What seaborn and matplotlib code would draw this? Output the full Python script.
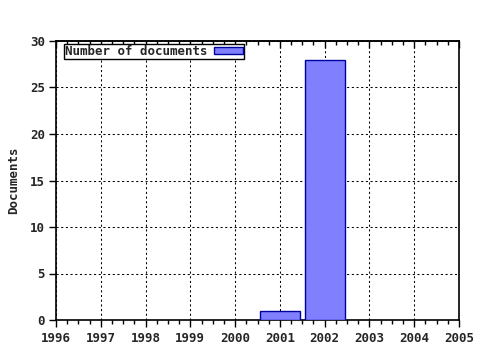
import matplotlib
matplotlib.use("Agg")
import matplotlib.pyplot as plt
import seaborn as sns
import pandas as pd
from matplotlib.ticker import MultipleLocator

years = [2001, 2002]
documents = [1, 28]
xticks = [1996, 1997, 1998, 1999, 2000, 2001, 2002, 2003, 2004, 2005]
yticks = [0, 5, 10, 15, 20, 25, 30]

sns.set_style("white")
plt.rcParams['font.family'] = ['DejaVu Sans Mono']
plt.rcParams['font.weight'] = 'bold'

df = pd.DataFrame({"Year": years, "Documents": documents})

fig = plt.figure(figsize=(4.8, 3.5), dpi=100)
ax = fig.add_axes([56/480, 1-320/350, (459-56)/480, (320-41)/350])

sns.barplot(data=df, x="Year", y="Documents", native_scale=True, width=0.9,
            color="#8080FF", saturation=1, edgecolor="#0000A0", linewidth=1,
            label="Number of documents", ax=ax, zorder=3)

ax.set_xlim(1996, 2005)
ax.set_ylim(0, 30)
ax.set_xticks(xticks)
ax.set_xticklabels([str(x) for x in xticks], fontsize=9, fontweight='bold')
ax.set_yticks(yticks)
ax.set_yticklabels([str(y) for y in yticks], fontsize=9, fontweight='bold')
ax.xaxis.set_minor_locator(MultipleLocator(0.25))
ax.set_xlabel("")
ax.set_ylabel("Documents", fontsize=9, fontweight='bold')
ax.yaxis.set_label_coords(-0.089, 0.5)

ax.grid(True, which='major', color='black', linestyle=(0, (2, 2.5)), linewidth=0.75, zorder=0)
ax.set_axisbelow(True)
for s in ax.spines.values():
    s.set_color('black')
    s.set_linewidth(1.2)
    s.set_visible(True)

ax.tick_params(axis='x', which='major', direction='out', length=5, width=1, top=False, bottom=True, color='black', pad=4)
ax.tick_params(axis='x', which='minor', direction='out', length=3, width=1, top=False, bottom=True, color='black')
ax.tick_params(axis='y', which='major', direction='out', length=5, width=1, left=True, right=False, color='black', pad=3)

sec = ax.secondary_xaxis('top')
sec.set_xticks(xticks)
sec.xaxis.set_minor_locator(MultipleLocator(0.25))
sec.tick_params(axis='x', which='major', direction='in', length=5, width=1, labeltop=False, color='black')
sec.tick_params(axis='x', which='minor', direction='in', length=3, width=1, color='black')
sec.spines['top'].set_linewidth(1.2)

leg = ax.legend(loc='upper left', bbox_to_anchor=(0.02, 0.99), frameon=True, fancybox=False,
                markerfirst=False, handlelength=2.3, handleheight=0.5, borderpad=0.1,
                borderaxespad=0.0, handletextpad=0.5,
                prop={'family': 'DejaVu Sans Mono', 'weight': 'bold', 'size': 9})
leg.get_frame().set_edgecolor('black')
leg.get_frame().set_linewidth(1)
leg.get_frame().set_alpha(1)

fig.savefig("out.png", dpi=100)
